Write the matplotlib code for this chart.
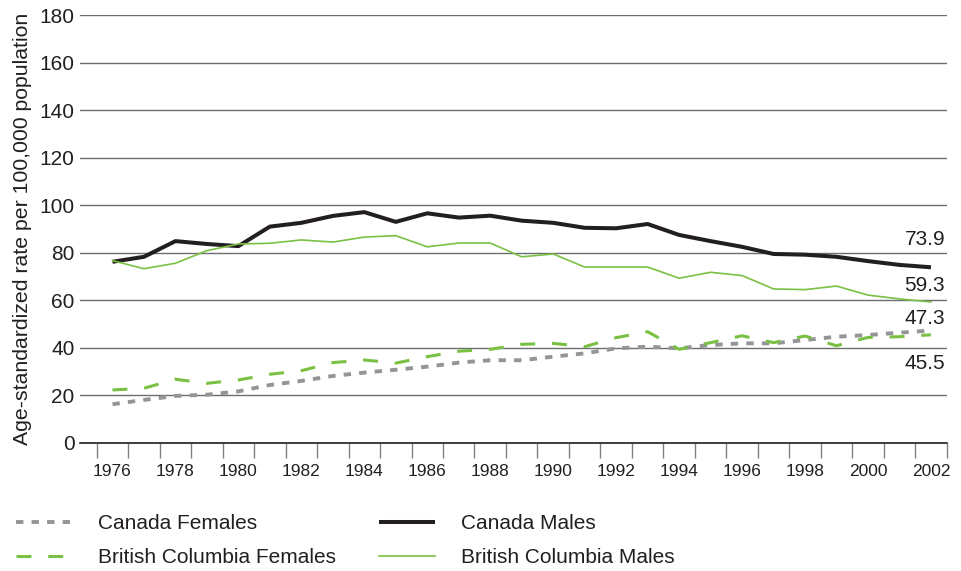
"Age-standardized rates, Canada vs British Columbia, 1976-2002"

import numpy             as np
import matplotlib
matplotlib.use('Agg')
import matplotlib.pyplot as plt
from matplotlib.lines import Line2D

plt.rcParams['font.family'] = ['Liberation Sans', 'DejaVu Sans']

years = list(range(1976, 2003))

canada_males = [
    76.2, 78.3, 84.9, 83.7, 82.8, 91.0, 92.6, 95.5, 97.1, 93.0,
    96.6, 94.8, 95.6, 93.5, 92.6, 90.5, 90.3, 92.1, 87.5, 84.9,
    82.5, 79.5, 79.2, 78.3, 76.5, 74.9, 73.9,
]
bc_males = [
    76.7, 73.3, 75.6, 80.9, 83.7, 84.0, 85.4, 84.5, 86.6, 87.2,
    82.5, 84.1, 84.1, 78.3, 79.5, 74.0, 74.0, 74.0, 69.3, 71.8,
    70.4, 64.8, 64.5, 66.0, 62.2, 60.6, 59.3,
]
canada_females = [
    16.3, 18.1, 19.8, 20.3, 21.7, 24.4, 26.1, 28.2, 29.6, 30.8,
    32.1, 33.8, 34.8, 34.8, 36.3, 37.7, 39.8, 40.5, 39.8, 41.2,
    41.9, 41.9, 43.3, 44.7, 45.4, 46.4, 47.3,
]
bc_females = [
    22.3, 23.0, 26.8, 25.1, 26.5, 28.9, 30.4, 33.8, 34.9, 33.6,
    36.3, 38.6, 39.4, 41.5, 41.9, 40.5, 44.3, 46.8, 39.4, 42.2,
    45.1, 42.2, 45.0, 40.9, 44.4, 44.7, 45.5,
]

GREEN = '#7ac143'
GRAY  = '#939598'
BLACK = '#231f20'
TEXT  = '#231f20'


def main():
    fig = plt.figure(figsize=(9.62, 5.71), dpi=100)
    ax = fig.add_axes([0.0832, 0.2242, 0.9009, 0.7495])

    x = np.arange(len(years))

    series = [
        ('Canada Females', canada_females,
         dict(color=GRAY, lw=2.8, dashes=(1.9, 2.1), dash_capstyle='butt')),
        ('British Columbia Females', bc_females,
         dict(color=GREEN, lw=2.2, dashes=(4.9, 5.5), dash_capstyle='butt')),
        ('Canada Males', canada_males,
         dict(color=BLACK, lw=2.9, solid_capstyle='butt')),
        ('British Columbia Males', bc_males,
         dict(color=GREEN, lw=1.2)),
    ]
    handles = []
    for name, vals, style in series:
        ax.plot(x, vals, **style, zorder=3)
        handles.append(Line2D([], [], label=name, **style))

    # end-of-line value labels
    ends = [(canada_males[-1], 11.7), (bc_males[-1], 6.9),
            (canada_females[-1], 4.9), (bc_females[-1], -12.0)]
    for v, off in ends:
        ax.text(26.45, v + off, f'{v:.1f}', ha='right', va='center',
                fontsize=15, color=TEXT)

    ax.set_ylim(0, 180)
    ax.set_xlim(-1.03, 26.5)
    ax.set_yticks(range(0, 181, 20))
    ax.yaxis.grid(True, color='#6d6e71', lw=1.0)
    ax.set_axisbelow(True)
    ax.tick_params(axis='y', length=0, pad=4, labelsize=15, labelcolor=TEXT)

    ax.set_xticks(x[::2])
    ax.set_xticklabels([str(y) for y in years[::2]])
    ax.set_xticks(np.arange(-0.5, len(years), 1.0), minor=True)
    ax.tick_params(axis='x', which='major', length=0, pad=15,
                   labelsize=12.5, labelcolor=TEXT)
    ax.tick_params(axis='x', which='minor', length=11, width=1.0,
                   color='#808080')

    for side in ('left', 'right', 'top'):
        ax.spines[side].set_visible(False)
    ax.spines['bottom'].set_color(BLACK)
    ax.spines['bottom'].set_linewidth(1.2)

    ax.set_ylabel('Age-standardized rate per 100,000 population',
                  fontsize=15.3, color=TEXT, labelpad=5)

    fig.legend(handles=handles, loc='upper left',
               bbox_to_anchor=(16 / 962, 1 - 514 / 571), ncol=2,
               frameon=False, borderpad=0, borderaxespad=0,
               fontsize=15, handlelength=2.7, handletextpad=1.25,
               columnspacing=2.05, labelspacing=0.72, labelcolor=TEXT)

    fig.savefig('out.png', dpi=100)


if __name__ == "__main__":
    main()
